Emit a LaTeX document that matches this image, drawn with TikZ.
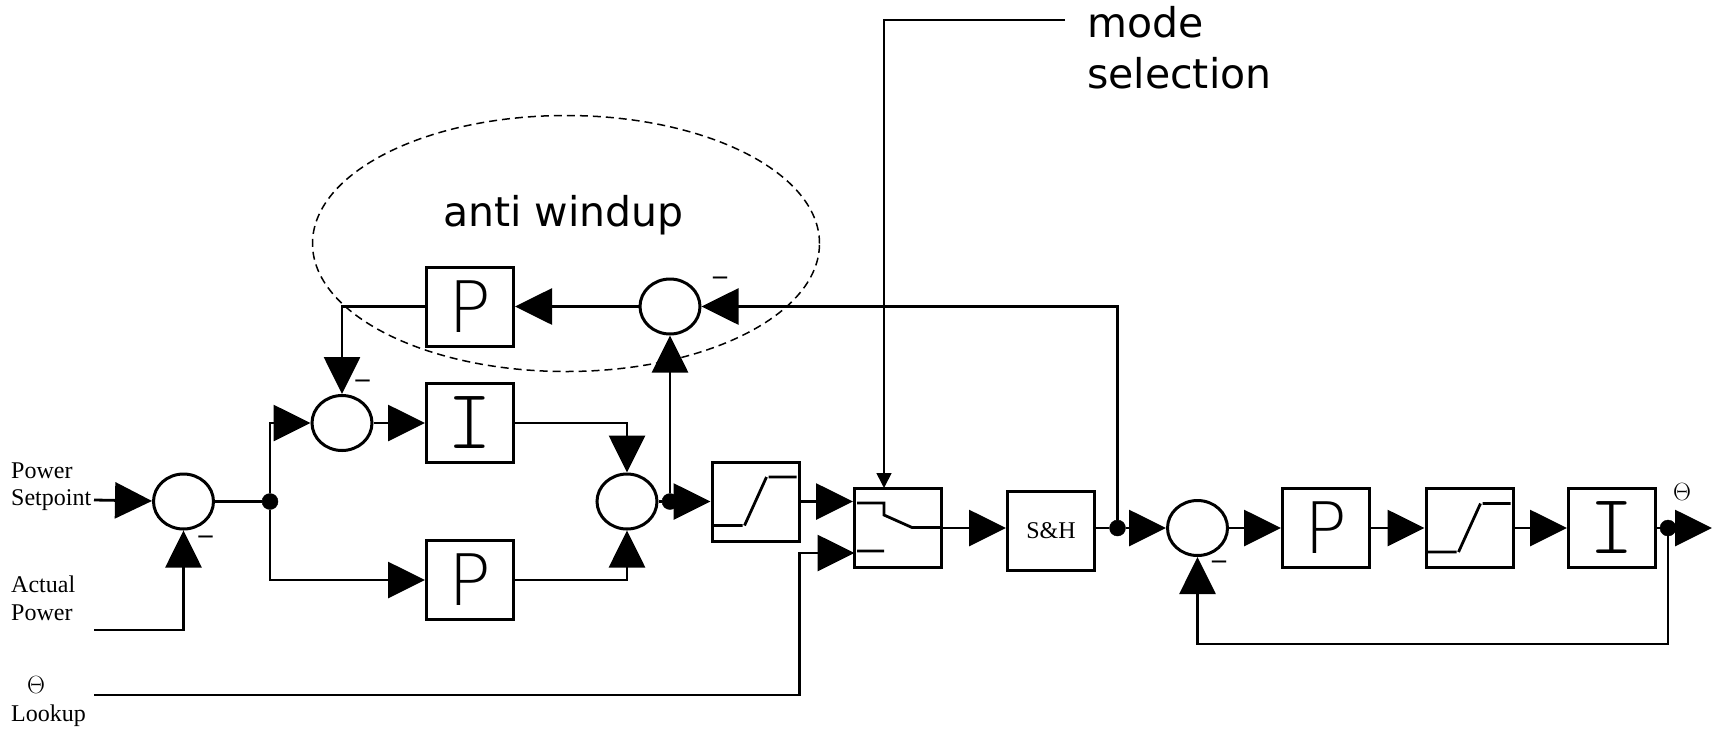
\documentclass[tikz,border=0pt]{standalone}
\usepackage{fontspec}
\setmainfont{Liberation Serif}
\newfontfamily\notefont{DejaVu Sans}
\newfontfamily\pfont{DejaVu Sans ExtraLight}
\newfontfamily\ifont{Latin Modern Mono Light}
\usetikzlibrary{arrows.meta,shapes.geometric}
\tikzset{
block/.style={draw,fill=white,line width=3pt,minimum width=87pt,minimum height=79pt,inner sep=0pt},
pblock/.style={block,font=\pfont\fontsize{71}{71}\selectfont},
iblock/.style={block,font=\ifont\fontsize{85}{85}\selectfont},
sumnode/.style={draw,fill=white,ellipse,line width=3pt,minimum width=60pt,minimum height=55pt,inner sep=0pt},
dotnode/.style={draw,fill=black,circle,minimum size=16pt,inner sep=0pt},
flow/.style={line width=2.8pt,-{Triangle[length=37pt,width=36pt]}},
wire/.style={line width=2.8pt},
thinflow/.style={line width=1.6pt,-{Triangle[length=15pt,width=15pt]}},
glyph/.style={line width=2.8pt},
signal/.style={font=\fontsize{24}{27.5}\selectfont,inner sep=0pt,anchor=base west,align=left},
note/.style={font=\notefont\fontsize{41}{51}\selectfont,inner sep=0pt},
minuslabel/.style={font=\bfseries\fontsize{28}{28}\selectfont,inner sep=0pt}
}
\begin{document}
\begin{tikzpicture}[x=1pt,y=-1pt]
\useasboundingbox (0,0) rectangle (1713,729);
\node[draw,dashed,ellipse,line width=1.5pt,dash pattern=on 8pt off 5pt,minimum width=507pt,minimum height=256pt] (windup) at (566,243.5) {};
\node[note,anchor=base] (windtext) at (563.5,226) {anti windup};
\node[note,anchor=west,align=left] (modetext) at (1087,48) {mode\\selection};
\node[sumnode] (sum1) at (183.5,501.5) {};
\node[sumnode] (sum2) at (342,423) {};
\node[sumnode] (sum3) at (627,501.5) {};
\node[sumnode] (sum4) at (670,306.5) {};
\node[sumnode] (sum5) at (1197.5,528) {};
\node[dotnode] (j1) at (270,501.5) {};
\node[dotnode] (j2) at (670,501.5) {};
\node[dotnode] (j3) at (1117.5,528) {};
\node[dotnode] (j4) at (1668,528) {};
\node[pblock] (p1) at (470,306.5) {P};
\node[iblock] (i1) at (470,423) {I};
\node[pblock] (p2) at (470,580) {P};
\node[block] (sat1) at (755.5,501.5) {};
\node[block] (switch) at (898,528) {};
\node[block,font=\fontsize{24}{24}\selectfont] (sandh) at (1051,531) {S\&H};
\node[pblock] (p3) at (1326,528) {P};
\node[block] (sat2) at (1469.5,528) {};
\node[iblock] (i2) at (1612,528) {I};
\node[signal] (setlabel) at (11,505.5) {Power\\Setpoint};
\node[signal] (actlabel) at (11,620) {Actual\\Power};
\node[signal] (thetalabel) at (27,693) {$\Theta$};
\node[signal] (lookuplabel) at (11,721) {Lookup};
\node[signal] (outlabel) at (1673,500) {$\Theta$};
\node[minuslabel] (minus1) at (205.5,540) {--};
\node[minuslabel] (minus2) at (362.5,384) {--};
\node[minuslabel] (minus3) at (720,281) {--};
\node[minuslabel] (minus4) at (1219,565) {--};
\coordinate (in1) at (94,500);
\coordinate (in2) at (94,630);
\coordinate (in3) at (94,695);
\coordinate (turn) at (799.5,553);
\coordinate (swin) at (854.5,553);
\coordinate (modeend) at (1065,20);
\coordinate (swtop) at (884,488);
\coordinate (fbturn) at (1197.5,644);
\coordinate (out) at (1712,528);
\draw[flow] (in1) -- (sum1);
\draw[flow] (in2) -| (sum1);
\draw[wire] (sum1) -- (j1);
\draw[flow] (j1) |- (sum2);
\draw[flow] (j1) |- (p2);
\draw[flow] (sum2) -- (i1);
\draw[flow] (i1) -| (sum3);
\draw[flow] (p2) -| (sum3);
\draw[wire] (sum3) -- (j2);
\draw[flow] (j2) -- (sum4);
\draw[flow] (j2) -- (sat1);
\draw[flow] (j3) |- (sum4);
\draw[flow] (sum4) -- (p1);
\draw[flow] (p1) -| (sum2);
\draw[flow] (sat1) -- (sat1 -| switch.west);
\draw[flow] (in3) -| (turn) -- (swin);
\draw[thinflow] (modeend) -| (swtop);
\draw[flow] (switch) -- (switch -| sandh.west);
\draw[wire] (switch -| sandh.east) -- (j3);
\draw[flow] (j3) -- (sum5);
\draw[flow] (sum5) -- (p3);
\draw[flow] (p3) -- (sat2);
\draw[flow] (sat2) -- (i2);
\draw[wire] (i2) -- (j4);
\draw[flow] (j4) -- (out);
\draw[flow] (j4) |- (fbturn) -- (sum5);
\foreach \b in {sat1,sat2}
\draw[glyph] ([shift={(-42,24)}]\b.center) -- ++(29,0)
([shift={(-11,24)}]\b.center) -- ++(22,-48.5)
([shift={(13,-24.5)}]\b.center) -- ++(28,0);
\draw[glyph] ([shift={(-41,-25)}]switch.center) -- ++(27,0) -- ++(0,12) -- ++(28,12.5) -- ++(30,0)
([shift={(-41,23)}]switch.center) -- ++(27,0);
\end{tikzpicture}
\end{document}
